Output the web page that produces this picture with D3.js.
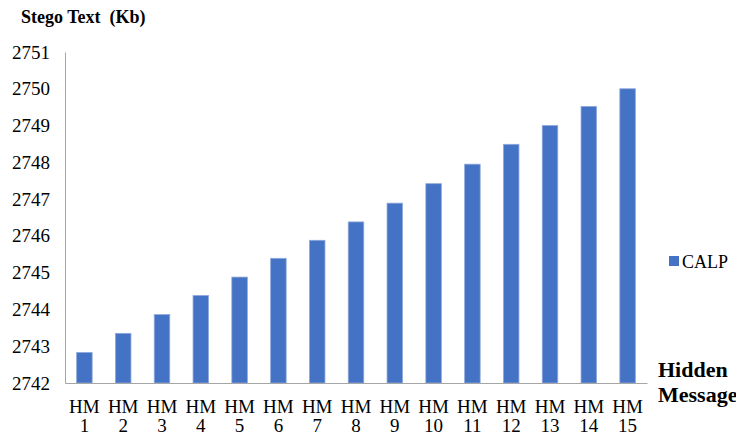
<!DOCTYPE html>
<html>
<head>
<meta charset="utf-8">
<script src="https://cdn.jsdelivr.net/npm/d3@7"></script>
<style>
  html, body { margin: 0; padding: 0; background: #fff; }
  svg { display: block; }
</style>
</head>
<body>
<svg id="chart" width="736" height="437"></svg>
<script>
const categories = ["HM 1","HM 2","HM 3","HM 4","HM 5","HM 6","HM 7","HM 8","HM 9","HM 10","HM 11","HM 12","HM 13","HM 14","HM 15"];
const calpValues = [2742.83, 2743.35, 2743.86, 2744.38, 2744.88, 2745.39, 2745.88, 2746.38, 2746.89, 2747.42, 2747.95, 2748.49, 2749.0, 2749.52, 2750.0];
const yTicks = [2742, 2743, 2744, 2745, 2746, 2747, 2748, 2749, 2750, 2751];
const seriesName = "CALP";
const yTitle = "Stego Text\u00a0\u00a0(Kb)";
const xTitle = ["Hidden", "Message"];

const FONT = '"Liberation Serif"';
const svg = d3.select("#chart").attr("font-family", FONT);
const plotLeft = 65, plotRight = 647, plotTop = 52, plotBottom = 383;

const x = d3.scaleBand().domain(categories).range([plotLeft, plotRight]).paddingInner(0.6).paddingOuter(0.3);
const y = d3.scaleLinear().domain([2742, 2751]).range([plotBottom, plotTop]);

// Bars
svg.append("g").selectAll("rect").data(calpValues).join("rect")
  .attr("x", (d, i) => x(categories[i]))
  .attr("y", d => y(d))
  .attr("width", x.bandwidth())
  .attr("height", d => y(2742) - y(d))
  .attr("fill", "#4472C4")
  .attr("stroke", "#8EA9DB")
  .attr("stroke-width", 0.8);

// Y axis
const yAxis = svg.append("g").attr("transform", `translate(${plotLeft},0)`)
  .call(d3.axisLeft(y).tickValues(yTicks).tickSize(0).tickPadding(15).tickFormat(d3.format("d")));
yAxis.attr("font-family", FONT).attr("font-size", 19);
yAxis.select(".domain").attr("stroke", "#a6a6a6").attr("stroke-width", 1);
yAxis.selectAll("text").attr("font-size", 19).attr("font-family", FONT).attr("fill", "#000");

// X axis
const xAxis = svg.append("g").attr("transform", `translate(0,${plotBottom})`)
  .call(d3.axisBottom(x).tickSize(0).tickFormat(""));
xAxis.attr("font-family", FONT).attr("font-size", 19);
xAxis.select(".domain").attr("stroke", "#a6a6a6").attr("stroke-width", 1);
xAxis.selectAll(".tick").each(function(d) {
  const parts = d.split(" ");
  const t = d3.select(this).append("text")
    .attr("text-anchor", "middle")
    .attr("font-size", 19)
    .attr("font-family", FONT)
    .attr("fill", "#000");
  t.append("tspan").attr("x", 0).attr("y", 30).text(parts[0]);
  t.append("tspan").attr("x", 0).attr("y", 49).text(parts[1]);
});

// Y title
svg.append("text").attr("x", 21).attr("y", 23).attr("font-family", FONT)
  .attr("font-size", 18).attr("font-weight", "bold").attr("fill", "#000")
  .text(yTitle);

// X title
svg.append("text").attr("x", 658).attr("y", 377).attr("font-family", FONT).attr("fill", "#000")
  .attr("font-size", 22).attr("font-weight", "bold").text(xTitle[0]);
svg.append("text").attr("x", 658).attr("y", 402).attr("font-family", FONT).attr("fill", "#000")
  .attr("font-size", 22).attr("font-weight", "bold").text(xTitle[1]);

// Legend
const lg = svg.append("g");
lg.append("rect").attr("x", 669).attr("y", 256).attr("width", 10).attr("height", 10).attr("fill", "#4472C4");
lg.append("text").attr("x", 682).attr("y", 268).attr("font-family", FONT).attr("fill", "#000")
  .attr("font-size", 18).text(seriesName);
</script>
</body>
</html>
